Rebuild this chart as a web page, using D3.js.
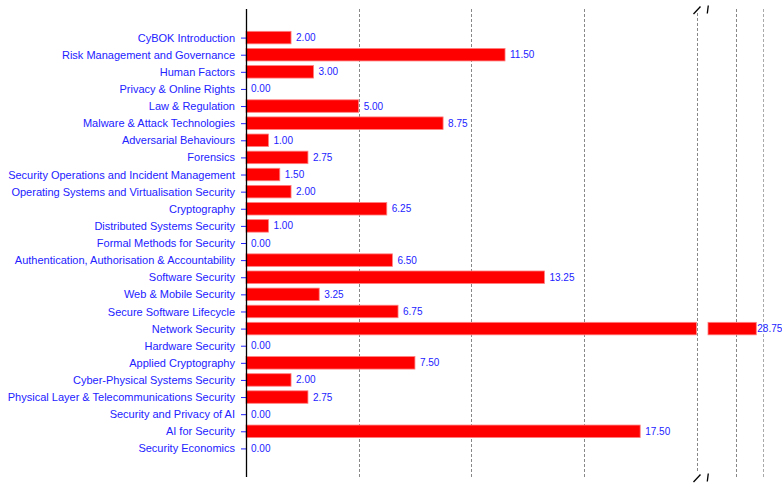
<!DOCTYPE html>
<html>
<head>
<meta charset="utf-8">
<script src="https://cdn.jsdelivr.net/npm/d3@7"></script>
<style>
  body { margin: 0; background: #fff; }
  text { font-family: "Liberation Sans", Arial, sans-serif; }
</style>
</head>
<body>
<svg width="782" height="487"></svg>
<script>
// Topics and their values
const topics = [
  "CyBOK Introduction",
  "Risk Management and Governance",
  "Human Factors",
  "Privacy & Online Rights",
  "Law & Regulation",
  "Malware & Attack Technologies",
  "Adversarial Behaviours",
  "Forensics",
  "Security Operations and Incident Management",
  "Operating Systems and Virtualisation Security",
  "Cryptography",
  "Distributed Systems Security",
  "Formal Methods for Security",
  "Authentication, Authorisation & Accountability",
  "Software Security",
  "Web & Mobile Security",
  "Secure Software Lifecycle",
  "Network Security",
  "Hardware Security",
  "Applied Cryptography",
  "Cyber-Physical Systems Security",
  "Physical Layer & Telecommunications Security",
  "Security and Privacy of AI",
  "AI for Security",
  "Security Economics"
];
const values = [2, 11.5, 3, 0, 5, 8.75, 1, 2.75, 1.5, 2, 6.25, 1, 0, 6.5, 13.25, 3.25, 6.75, 28.75, 0, 7.5, 2, 2.75, 0, 17.5, 0];

// broken axis: left part and right part
const leftDomain = [0, 20];
const rightDomain = [27, 29.5];
const leftTicks = [5, 10, 15, 20];
const rightTicks = [28, 29];

const data = topics.map((t, i) => ({topic: t, value: values[i]}));

const svg = d3.select("svg");
const blue = "#2222ff";

const xL = d3.scaleLinear().domain(leftDomain).range([246, 696.5]);
const xR = d3.scaleLinear().domain(rightDomain).range([708, 777]);
const y = d3.scalePoint().domain(topics).range([9, 477]).padding(1.67);
const barH = 12.5;

// grid lines
const grid = svg.append("g");
grid.selectAll(".gl")
  .data(leftTicks)
  .enter().append("line")
  .attr("x1", d => Math.round(xL(d)) + 0.5)
  .attr("x2", d => Math.round(xL(d)) + 0.5)
  .attr("y1", d => d === 20 ? 13 : 9)
  .attr("y2", d => d === 20 ? 473 : 477)
  .attr("stroke", "#888")
  .attr("stroke-dasharray", "3,2");
grid.selectAll(".gr")
  .data(rightTicks)
  .enter().append("line")
  .attr("x1", d => Math.round(xR(d)) + 0.5)
  .attr("x2", d => Math.round(xR(d)) + 0.5)
  .attr("y1", 9)
  .attr("y2", 477)
  .attr("stroke", (d, i) => i === 1 ? "#aaa" : "#888")
  .attr("stroke-dasharray", "3,2");

// bars (left part)
svg.selectAll(".bar")
  .data(data.filter(d => d.value > 0))
  .enter().append("rect")
  .attr("class", "bar")
  .attr("x", xL(0))
  .attr("y", d => y(d.topic) - barH / 2)
  .attr("width", d => xL(Math.min(d.value, leftDomain[1])) - xL(0))
  .attr("height", barH)
  .attr("fill", "#ff0000")
  .attr("stroke", "#ff8080")
  .attr("stroke-width", 0.8);

// bars (right part)
svg.selectAll(".barR")
  .data(data.filter(d => d.value > rightDomain[0]))
  .enter().append("rect")
  .attr("class", "barR")
  .attr("x", xR(rightDomain[0]))
  .attr("y", d => y(d.topic) - barH / 2)
  .attr("width", d => xR(d.value) - xR(rightDomain[0]))
  .attr("height", barH)
  .attr("fill", "#ff0000")
  .attr("stroke", "#ff8080")
  .attr("stroke-width", 0.8);

// value labels
svg.selectAll(".val")
  .data(data)
  .enter().append("text")
  .attr("x", d => d.value > leftDomain[1] ? xR(d.value) + 1 : xL(d.value) + 5)
  .attr("y", d => y(d.topic))
  .attr("dy", "0.35em")
  .attr("font-size", 10)
  .attr("fill", blue)
  .text(d => d.value.toFixed(2));

// y axis
const yAxis = svg.append("g")
  .attr("transform", "translate(246,0)")
  .call(d3.axisLeft(y).tickSize(5).tickPadding(6));
yAxis.select(".domain").remove();
yAxis.selectAll(".tick line").attr("stroke", blue);
yAxis.selectAll(".tick text")
  .attr("fill", blue)
  .attr("font-size", 11)
  .attr("font-family", "Liberation Sans, Arial, sans-serif");
svg.append("line")
  .attr("x1", 246.5).attr("x2", 246.5)
  .attr("y1", 9).attr("y2", 477)
  .attr("stroke", "#000")
  .attr("stroke-width", 1.3);

// break marks
const marks = svg.append("g").attr("stroke", "#000").attr("stroke-width", 1.3);
[[6.5, 14], [474.5, 482]].forEach(([a, b]) => {
  marks.append("line").attr("x1", 693.5).attr("y1", b).attr("x2", 700.5).attr("y2", a);
  marks.append("line").attr("x1", 708.3).attr("y1", a - 1).attr("x2", 707.3).attr("y2", b - 0.5);
});
</script>
</body>
</html>
